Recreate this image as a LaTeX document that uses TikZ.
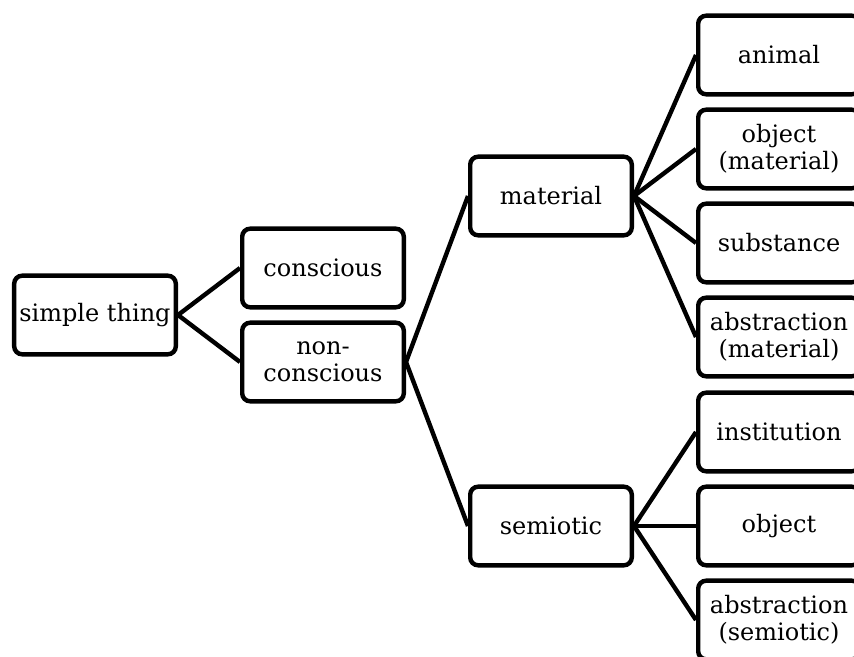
\documentclass[tikz,border=0pt]{standalone}
\usepackage{fontspec}
\setmainfont{DejaVu Serif}

\begin{document}
\begin{tikzpicture}[node distance={171pt}, line width=3.3pt, main/.style = {draw, rounded corners=6pt, minimum width=121.2pt, minimum height=59pt, inner sep=1pt, align=center, font=\fontsize{18pt}{20pt}\selectfont}]
		\useasboundingbox (-71.25pt,-256.5pt) rectangle (569.25pt,236.25pt);
		\clip (-71.25pt,-256.5pt) rectangle (569.25pt,236.25pt);
		\node[main] (1) {simple thing};
		\node[main] (2) [right of=1, yshift=35.25pt] {conscious};
		\node[main] (3) [right of=1, yshift=-35.25pt] {non-\\conscious};
		\node[main] (4) [right of=3, yshift=124.5pt] {material};
		\node[main] (5) [right of=3, yshift=-123pt] {semiotic};
		\node[main] (6) [right of=4, yshift=105.75pt] {animal};
		\node[main] (7) [right of=4, yshift=35.25pt] {object\\(material)};
		\node[main] (8) [right of=4, yshift=-35.25pt] {substance};
		\node[main] (9) [right of=4, yshift=-105.75pt] {abstraction\\(material)};
		\node[main] (10) [right of=5, yshift=70.5pt] {institution};
		\node[main] (11) [right of=5] {object};
		\node[main] (12) [right of=5, yshift=-70.5pt] {abstraction\\(semiotic)};
		\draw (1.east) -- (2.west);
		\draw (1.east) -- (3.west);
		\draw (3.east) -- (4.west);
		\draw (3.east) -- (5.west);
		\draw (4.east) -- (6.west);
		\draw (4.east) -- (7.west);
		\draw (4.east) -- (8.west);
		\draw (4.east) -- (9.west);
		\draw (5.east) -- (10.west);
		\draw (5.east) -- (11.west);
		\draw (5.east) -- (12.west);
	\end{tikzpicture}
\end{document}
